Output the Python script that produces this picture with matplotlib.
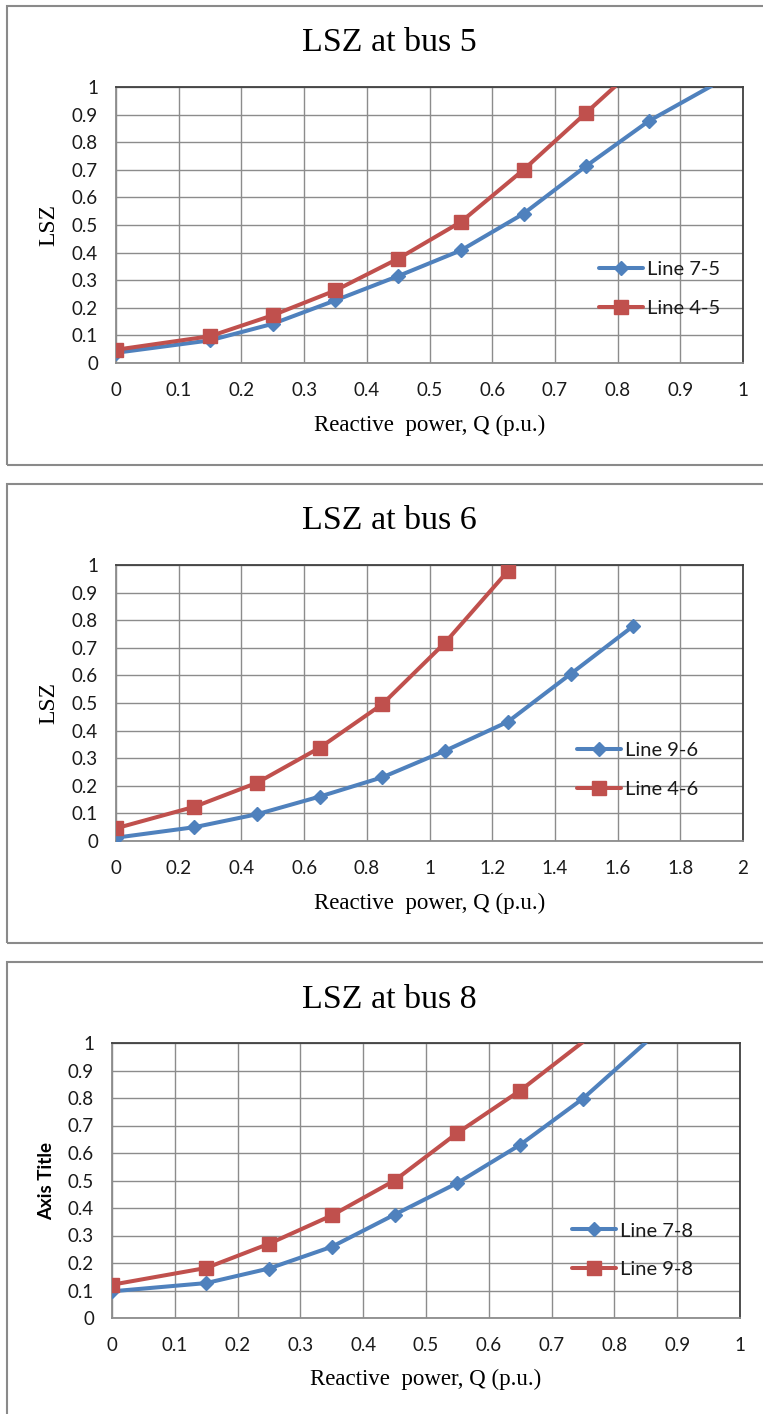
import numpy as np
import matplotlib.pyplot as plt
from matplotlib.patches import Rectangle

# ---- data ----
# bus 5
q_75 = [0, 0.15, 0.25, 0.35, 0.45, 0.55, 0.65, 0.75, 0.85, 0.95]
lsz_75 = [0.037, 0.082, 0.142, 0.227, 0.315, 0.408, 0.541, 0.714, 0.877, 1.004]
q_45 = [0, 0.15, 0.25, 0.35, 0.45, 0.55, 0.65, 0.75, 0.85]
lsz_45 = [0.048, 0.097, 0.173, 0.263, 0.378, 0.511, 0.700, 0.907, 1.114]

# bus 6
q_96 = [0, 0.25, 0.45, 0.65, 0.85, 1.05, 1.25, 1.45, 1.65]
lsz_96 = [0.012, 0.050, 0.097, 0.161, 0.231, 0.327, 0.432, 0.605, 0.779]
q_46 = [0, 0.25, 0.45, 0.65, 0.85, 1.05, 1.25]
lsz_46 = [0.046, 0.124, 0.211, 0.338, 0.496, 0.719, 0.978]

# bus 8
q_78 = [0, 0.15, 0.25, 0.35, 0.45, 0.55, 0.65, 0.75, 0.85]
lsz_78 = [0.097, 0.127, 0.180, 0.259, 0.376, 0.491, 0.630, 0.798, 1.002]
q_98 = [0, 0.15, 0.25, 0.35, 0.45, 0.55, 0.65, 0.75]
lsz_98 = [0.121, 0.182, 0.270, 0.373, 0.500, 0.673, 0.827, 1.004]

titles = ["LSZ at bus 5", "LSZ at bus 6", "LSZ at bus 8"]
blue_labels = ["Line 7-5", "Line 9-6", "Line 7-8"]
red_labels = ["Line 4-5", "Line 4-6", "Line 9-8"]
y_labels = ["LSZ", "LSZ", "Axis Title"]
x_label = "Reactive  power, Q (p.u.)"

x_ticks_1 = [0, 0.1, 0.2, 0.3, 0.4, 0.5, 0.6, 0.7, 0.8, 0.9, 1]
x_tick_labels_1 = ["0", "0.1", "0.2", "0.3", "0.4", "0.5", "0.6", "0.7", "0.8", "0.9", "1"]
x_ticks_2 = [0, 0.2, 0.4, 0.6, 0.8, 1, 1.2, 1.4, 1.6, 1.8, 2]
x_tick_labels_2 = ["0", "0.2", "0.4", "0.6", "0.8", "1", "1.2", "1.4", "1.6", "1.8", "2"]
y_ticks = [0, 0.1, 0.2, 0.3, 0.4, 0.5, 0.6, 0.7, 0.8, 0.9, 1]
y_tick_labels = ["0", "0.1", "0.2", "0.3", "0.4", "0.5", "0.6", "0.7", "0.8", "0.9", "1"]

BLUE = "#4F81BD"
RED = "#C0504D"
SERIF = "Liberation Serif"
SANS = "Lato"

W, H = 763, 1414
fig = plt.figure(figsize=(W / 100, H / 100), dpi=100)
fig.patch.set_facecolor("white")


def fx(px):
    return px / W


def fy(py):
    return 1 - py / H


# chart frames (pixel boxes: left, top, right, bottom)
frames = [(7, 6, 775, 465), (7, 484, 775, 943), (7, 962, 775, 1430)]
for l, t, r, b in frames:
    fig.add_artist(Rectangle((fx(l), fy(b)), fx(r - l), (b - t) / H,
                             transform=fig.transFigure, fill=False,
                             edgecolor="#8a8a8a", linewidth=1.5))

# plot areas in pixels
boxes = [(116, 87, 743, 363), (116, 565, 743, 841), (112, 1043, 740, 1318)]
title_y = [43, 521, 1000]
legend_anchor = [(0.770, 0.268), (0.735, 0.257), (0.732, 0.247)]

series = [
    (q_75, lsz_75, q_45, lsz_45, x_ticks_1, x_tick_labels_1),
    (q_96, lsz_96, q_46, lsz_46, x_ticks_2, x_tick_labels_2),
    (q_78, lsz_78, q_98, lsz_98, x_ticks_1, x_tick_labels_1),
]

for i, (qb, yb, qr, yr, xt, xtl) in enumerate(series):
    l, t, r, b = boxes[i]
    ax = fig.add_axes([fx(l), fy(b), (r - l) / W, (b - t) / H])
    ax.set_xlim(xt[0], xt[-1])
    ax.set_ylim(0, 1)

    # points above 1 are off the chart: keep the line, drop the marker
    mb = [k for k, v in enumerate(yb) if v <= 1]
    mr = [k for k, v in enumerate(yr) if v <= 1]
    ax.plot(qb, yb, color=BLUE, lw=2.9, marker="D", ms=7.5, markevery=mb,
            label=blue_labels[i], zorder=3, solid_capstyle="round")
    ax.plot(qr, yr, color=RED, lw=2.9, marker="s", ms=10, markevery=mr,
            label=red_labels[i], zorder=4, solid_capstyle="round")

    ax.set_xticks(xt)
    ax.set_xticklabels(xtl)
    ax.set_yticks(y_ticks)
    ax.set_yticklabels(y_tick_labels)
    ax.tick_params(length=0, labelsize=13.5, colors="#1a1a1a")
    ax.tick_params(axis="x", pad=14)
    ax.tick_params(axis="y", pad=13)
    for lab in ax.get_xticklabels() + ax.get_yticklabels():
        lab.set_family(SANS)

    ax.set_axisbelow(True)
    ax.grid(True, color="#8c8c8c", lw=1)
    ax.spines["top"].set_color("#404040")
    ax.spines["right"].set_color("#404040")
    ax.spines["left"].set_color("#8c8c8c")
    ax.spines["bottom"].set_color("#8c8c8c")
    for s in ax.spines.values():
        s.set_linewidth(1.3)

    ax.set_xlabel(x_label, family=SERIF, fontsize=16.5, va="center")
    ax.xaxis.set_label_coords(0.5, -(425 - 363) / 276)
    if i < 2:
        ax.set_ylabel(y_labels[i], family=SERIF, fontsize=17, va="center")
        ax.yaxis.set_label_coords((49 - l) / (r - l), 0.5)
    else:
        ax.set_ylabel(y_labels[i], family=SANS, fontsize=13.5,
                      fontweight="bold", va="center")
        ax.yaxis.set_label_coords((47 - l) / (r - l), 0.5)

    leg = ax.legend(loc="center left", bbox_to_anchor=legend_anchor[i],
                    frameon=False, borderpad=0, borderaxespad=0,
                    handlelength=2.2, handletextpad=0.2, labelspacing=1.05,
                    prop={"family": SANS, "size": 14.5})
    for txt in leg.get_texts():
        txt.set_color("#1a1a1a")

    fig.text(fx(389), fy(title_y[i]), titles[i], family=SERIF, fontsize=24.5,
             ha="center", va="center")

fig.savefig("out.png", dpi=100, facecolor="white")
